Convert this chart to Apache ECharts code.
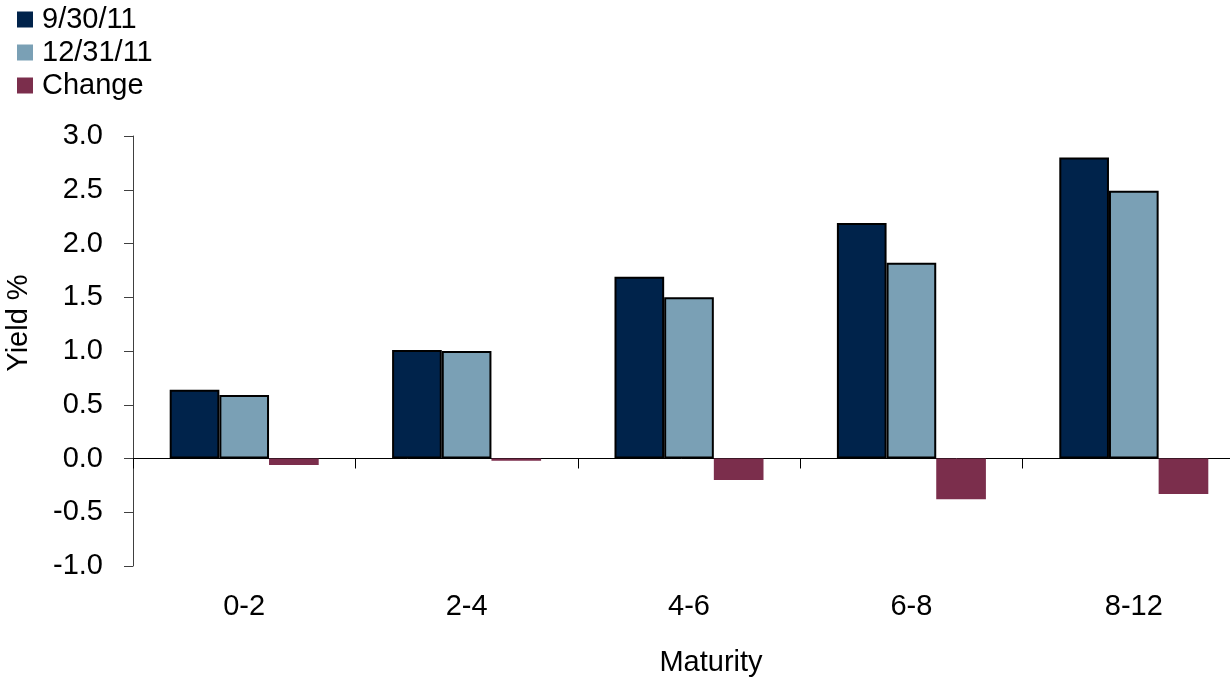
<!DOCTYPE html>
<html>
<head>
<meta charset="utf-8">
<script src="https://cdn.jsdelivr.net/npm/echarts@6/dist/echarts.min.js"></script>
<style>
html,body{margin:0;padding:0;background:#fff;}
#chart{width:1230px;height:681px;}
</style>
</head>
<body>
<div id="chart"></div>
<script>
const categories = ['0-2', '2-4', '4-6', '6-8', '8-12'];
const sep30 = [0.64, 1.01, 1.69, 2.19, 2.80];
const dec31 = [0.59, 1.00, 1.50, 1.82, 2.49];
const change = [-0.06, -0.02, -0.20, -0.38, -0.33];
const seriesNames = ['9/30/11', '12/31/11', 'Change'];

const FONT = 'Liberation Sans, Arial, sans-serif';
const chart = echarts.init(document.getElementById('chart'));
chart.setOption({
  animation: false,
  backgroundColor: '#ffffff',
  legend: {
    orient: 'vertical',
    left: 12,
    top: 0,
    itemWidth: 16,
    itemHeight: 16,
    itemGap: 4,
    icon: 'rect',
    data: seriesNames,
    itemStyle: { borderWidth: 0 },
    textStyle: { fontFamily: FONT, fontSize: 29, color: '#000', padding: [0, 0, 0, 4] }
  },
  grid: { left: 133, right: -15, top: 136, bottom: 115, containLabel: false, outerBoundsMode: 'none' },
  xAxis: {
    type: 'category',
    data: categories,
    name: 'Maturity',
    nameLocation: 'middle',
    nameGap: 82,
    nameTextStyle: { fontFamily: FONT, fontSize: 29, color: '#000', padding: [0, 0, 0, 44] },
    axisLine: { onZero: true, lineStyle: { color: '#000', width: 1 } },
    axisTick: { show: true, length: 10, inside: false, lineStyle: { color: '#000' } },
    axisLabel: { margin: 26, fontFamily: FONT, fontSize: 29, color: '#000' }
  },
  yAxis: {
    type: 'value',
    min: -1,
    max: 3,
    interval: 0.5,
    name: 'Yield %',
    nameLocation: 'middle',
    nameGap: 100,
    nameRotate: 90,
    nameTextStyle: { fontFamily: FONT, fontSize: 29, color: '#000', padding: [0, 0, 0, 56] },
    axisLine: { show: true, lineStyle: { color: '#404040', width: 1 } },
    axisTick: { show: true, length: 9, lineStyle: { color: '#404040' } },
    splitLine: { show: false },
    axisLabel: {
      margin: 30,
      fontFamily: FONT,
      fontSize: 29,
      color: '#000',
      formatter: v => v.toFixed(1)
    }
  },
  series: [
    {
      name: seriesNames[0], type: 'bar', data: sep30,
      barGap: '0%', barCategoryGap: '33%',
      itemStyle: { color: '#00234B', borderColor: '#000', borderWidth: 2 }
    },
    {
      name: seriesNames[1], type: 'bar', data: dec31,
      barGap: '0%', barCategoryGap: '33%',
      itemStyle: { color: '#7AA0B5', borderColor: '#000', borderWidth: 2 }
    },
    {
      name: seriesNames[2], type: 'bar', data: change,
      barGap: '0%', barCategoryGap: '33%',
      itemStyle: { color: '#7B2E4C' }
    }
  ]
});
</script>
</body>
</html>
